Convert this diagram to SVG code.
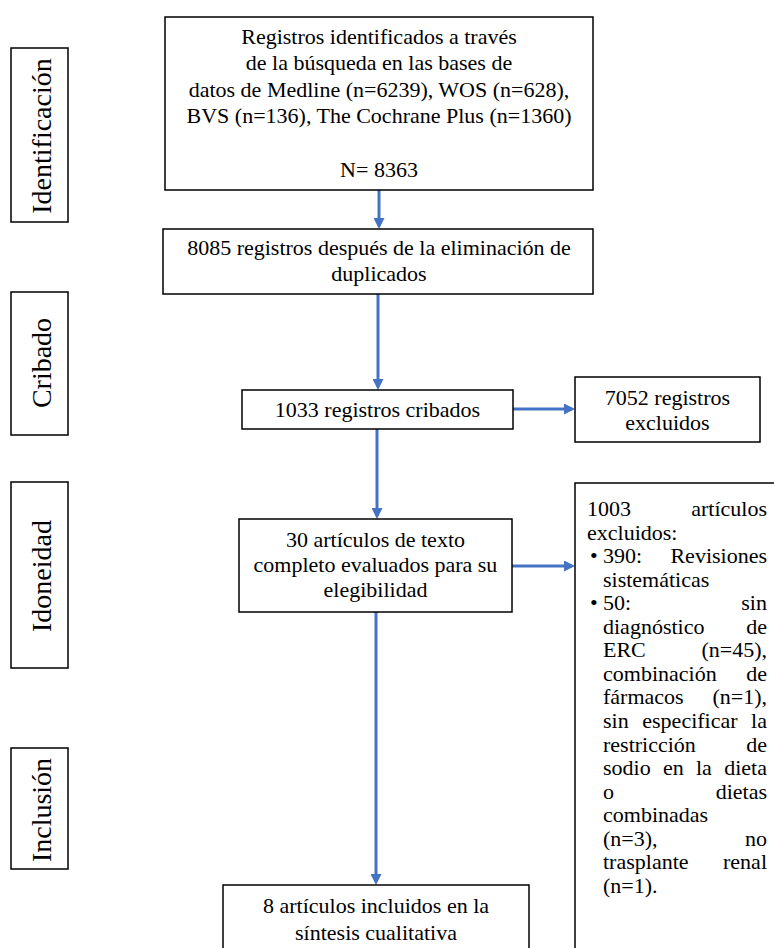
<svg xmlns="http://www.w3.org/2000/svg" width="774" height="948" viewBox="0 0 774 948">
<style>
.box{fill:#fff;stroke:#000;stroke-width:1.5}
.t{font-family:"Liberation Serif","Times New Roman",serif;font-size:22px;fill:#000}
.c{text-anchor:middle}
.e{text-anchor:end}
.lbl{font-family:"Liberation Serif","Times New Roman",serif;font-size:28px;fill:#000;text-anchor:middle}
.arr{stroke:#4472C4;stroke-width:3;fill:none;marker-end:url(#ah)}
</style>
<defs>
<marker id="ah" markerUnits="userSpaceOnUse" markerWidth="11" markerHeight="11" viewBox="0 0 11 11" refX="8" refY="5.5" orient="auto">
<path d="M0,0 L11,5.5 L0,11 z" fill="#4472C4"/>
</marker>
</defs>
<rect width="774" height="948" fill="#fff"/>

<g id="lbl-identificacion">
<rect class="box" x="11" y="48" width="57" height="174"/>
<text class="lbl" transform="translate(51,136) rotate(-90)">Identificación</text>
</g>
<g id="lbl-cribado">
<rect class="box" x="11" y="292" width="57" height="143"/>
<text class="lbl" transform="translate(51,363) rotate(-90)">Cribado</text>
</g>
<g id="lbl-idoneidad">
<rect class="box" x="11" y="482" width="57" height="186"/>
<text class="lbl" transform="translate(51,576) rotate(-90)">Idoneidad</text>
</g>
<g id="lbl-inclusion">
<rect class="box" x="11" y="748" width="57" height="121"/>
<text class="lbl" transform="translate(51,810) rotate(-90)">Inclusión</text>
</g>

<g id="connectors">
<line class="arr" x1="379" y1="190" x2="379" y2="226"/>
<line class="arr" x1="378" y1="294" x2="378" y2="387"/>
<line class="arr" x1="513" y1="409" x2="572" y2="409"/>
<line class="arr" x1="377" y1="429" x2="377" y2="516"/>
<line class="arr" x1="512" y1="566" x2="572" y2="566"/>
<line class="arr" x1="376" y1="612" x2="376" y2="882"/>
</g>

<g id="n-identificados">
<rect class="box" x="165" y="17" width="428" height="173"/>
<text class="t c" x="379" y="44">Registros identificados a través</text>
<text class="t c" x="379" y="70.3">de la búsqueda en las bases de</text>
<text class="t c" x="379" y="96.6">datos de Medline (n=6239), WOS (n=628),</text>
<text class="t c" x="379" y="123">BVS (n=136), The Cochrane Plus (n=1360)</text>
<text class="t c" x="379" y="177">N= 8363</text>
</g>

<g id="n-duplicados">
<rect class="box" x="163" y="229" width="430" height="65"/>
<text class="t c" x="379" y="255">8085 registros después de la eliminación de</text>
<text class="t c" x="379" y="281">duplicados</text>
</g>

<g id="n-cribados">
<rect class="box" x="242" y="390" width="271" height="39"/>
<text class="t c" x="377.5" y="417">1033 registros cribados</text>
</g>

<g id="n-excluidos">
<rect class="box" x="575" y="377" width="185" height="65"/>
<text class="t c" x="667.5" y="405">7052 registros</text>
<text class="t c" x="667.5" y="430">excluidos</text>
</g>

<g id="n-evaluados">
<rect class="box" x="239" y="519" width="273" height="93"/>
<text class="t c" x="375.5" y="547">30 artículos de texto</text>
<text class="t c" x="375.5" y="572">completo evaluados para su</text>
<text class="t c" x="375.5" y="597">elegibilidad</text>
</g>

<g id="n-articulos-excluidos">
<rect class="box" x="575" y="483" width="210" height="480"/>
<text class="t"><tspan x="587" y="516">1003</tspan><tspan class="e" x="767" y="516">artículos</tspan></text>
<text class="t" x="587" y="539.6">excluidos:</text>
<text class="t"><tspan x="590" y="563.1">•</tspan><tspan x="603" y="563.1">390:</tspan><tspan class="e" x="767" y="563.1">Revisiones</tspan></text>
<text class="t" x="603" y="586.7">sistemáticas</text>
<text class="t"><tspan x="590" y="610.2">•</tspan><tspan x="603" y="610.2">50:</tspan><tspan class="e" x="767" y="610.2">sin</tspan></text>
<text class="t"><tspan x="603" y="633.8">diagnóstico</tspan><tspan class="e" x="767" y="633.8">de</tspan></text>
<text class="t"><tspan x="603" y="657.3">ERC</tspan><tspan class="e" x="767" y="657.3">(n=45),</tspan></text>
<text class="t"><tspan x="603" y="680.9">combinación</tspan><tspan class="e" x="767" y="680.9">de</tspan></text>
<text class="t"><tspan x="603" y="704.4">fármacos</tspan><tspan class="e" x="767" y="704.4">(n=1),</tspan></text>
<text class="t"><tspan x="603" y="728">sin</tspan><tspan x="642.3" y="728">especificar</tspan><tspan class="e" x="767" y="728">la</tspan></text>
<text class="t"><tspan x="603" y="751.5">restricción</tspan><tspan class="e" x="767" y="751.5">de</tspan></text>
<text class="t"><tspan x="603" y="775.1">sodio</tspan><tspan x="663" y="775.1">en</tspan><tspan x="696" y="775.1">la</tspan><tspan class="e" x="767" y="775.1">dieta</tspan></text>
<text class="t"><tspan x="603" y="798.6">o</tspan><tspan class="e" x="767" y="798.6">dietas</tspan></text>
<text class="t" x="603" y="822.2">combinadas</text>
<text class="t"><tspan x="603" y="845.7">(n=3),</tspan><tspan class="e" x="767" y="845.7">no</tspan></text>
<text class="t"><tspan x="603" y="869.3">trasplante</tspan><tspan class="e" x="767" y="869.3">renal</tspan></text>
<text class="t" x="603" y="892.8">(n=1).</text>
</g>

<g id="n-incluidos">
<rect class="box" x="223" y="885" width="306" height="80"/>
<text class="t c" x="376" y="913">8 artículos incluidos en la</text>
<text class="t c" x="376" y="940">síntesis cualitativa</text>
</g>
</svg>
